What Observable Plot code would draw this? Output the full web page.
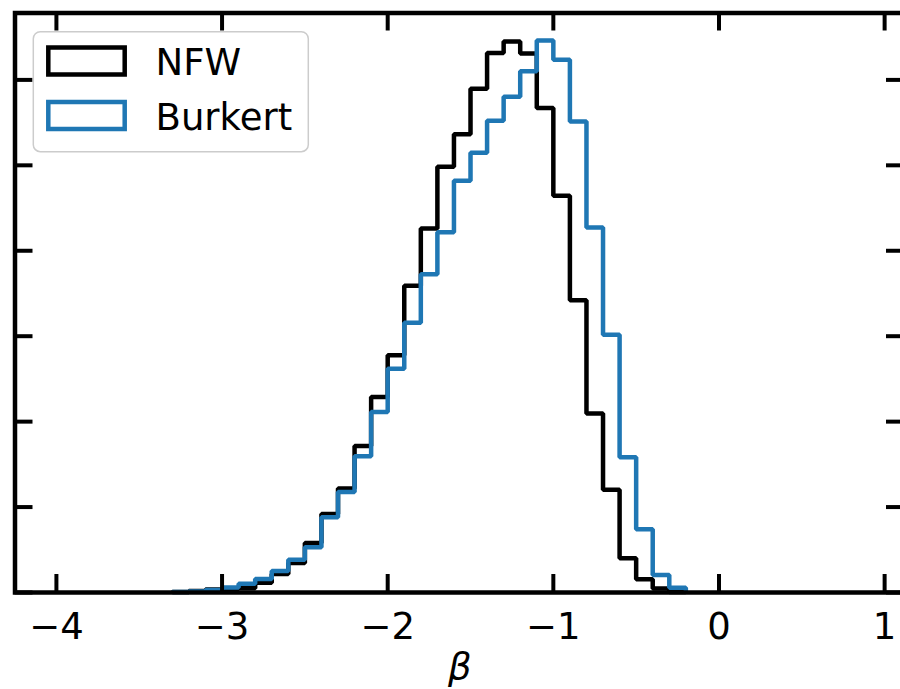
<!DOCTYPE html>
<html>
<head>
<meta charset="utf-8">
<script src="https://cdn.jsdelivr.net/npm/d3@7"></script>
<script src="https://cdn.jsdelivr.net/npm/@observablehq/plot@0.6"></script>
<style>
  html, body { margin: 0; padding: 0; background: #fff; }
  #chart { width: 900px; height: 689px; overflow: hidden; }
</style>
</head>
<body>
<div id="chart"></div>
<script>
// Bin left edges (bin width 0.1)
const binLeft = [-3.3, -3.2, -3.1, -3.0, -2.9, -2.8, -2.7, -2.6, -2.5, -2.4,
                 -2.3, -2.2, -2.1, -2.0, -1.9, -1.8, -1.7, -1.6, -1.5, -1.4,
                 -1.3, -1.2, -1.1, -1.0, -0.9, -0.8, -0.7, -0.6, -0.5, -0.4, -0.3];
const binWidth = 0.1;

// Counts per bin
const nfwCounts = [3, 9, 18, 21, 25, 57, 108, 172, 289, 460,
                   608, 858, 1144, 1389, 1795, 2131, 2492, 2682, 2948, 3157,
                   3225, 3154, 2836, 2322, 1711, 1047, 602, 201, 78, 23, 3];
const burkertCounts = [3, 6, 15, 29, 51, 79, 126, 192, 265, 441,
                       588, 797, 1057, 1309, 1579, 1863, 2108, 2410, 2573, 2761,
                       2902, 3051, 3230, 3118, 2756, 2136, 1509, 792, 370, 103, 28];

const seriesNames = ["NFW", "Burkert"];
const seriesColors = ["#000000", "#1f77b4"];

const xTicks = [-4, -3, -2, -1, 0, 1];
const yTicks = [0, 500, 1000, 1500, 2000, 2500, 3000];
const xDomain = [-4.25, 1.12];
const yMax = Math.max(...nfwCounts, ...burkertCounts) * 1.05;

// step outline of a histogram
function stepPoints(counts, name) {
  const pts = [{x: binLeft[0], y: 0, s: name}];
  counts.forEach((c, i) => pts.push({x: binLeft[i], y: c, s: name}));
  const lastRight = binLeft[binLeft.length - 1] + binWidth;
  pts.push({x: lastRight, y: counts[counts.length - 1], s: name});
  pts.push({x: lastRight, y: 0, s: name});
  return pts;
}
const nfwPts = stepPoints(nfwCounts, seriesNames[0]);
const burPts = stepPoints(burkertCounts, seriesNames[1]);

const W = 900, H = 689;
const mL = 14.5, mT = 12.5, mB = 97, mR = -4;
const frameW = W - mL - mR, frameH = H - mT - mB;
const tickLen = 18;

const plot = Plot.plot({
  width: W,
  height: H,
  marginLeft: mL,
  marginTop: mT,
  marginBottom: mB,
  marginRight: mR,
  style: {fontFamily: "DejaVu Sans", fontSize: "37px", color: "#000", background: "#fff", overflow: "hidden"},
  x: {domain: xDomain, axis: null},
  y: {domain: [0, yMax], axis: null},
  marks: [
    Plot.line(nfwPts, {x: "x", y: "y", curve: "step-after", stroke: seriesColors[0], strokeWidth: 4.5, strokeLinejoin: "miter", strokeLinecap: "butt"}),
    Plot.line(burPts, {x: "x", y: "y", curve: "step-after", stroke: seriesColors[1], strokeWidth: 4.5, strokeLinejoin: "miter", strokeLinecap: "butt"}),
    // inward ticks, bottom & top
    Plot.tickX(xTicks, {x: d => d, insetTop: frameH - tickLen, stroke: "#000", strokeWidth: 4}),
    Plot.tickX(xTicks, {x: d => d, insetBottom: frameH - tickLen, stroke: "#000", strokeWidth: 4}),
    // inward ticks, left & right
    Plot.tickY(yTicks, {y: d => d, insetRight: frameW - tickLen, stroke: "#000", strokeWidth: 4}),
    Plot.tickY(yTicks, {y: d => d, insetLeft: frameW - tickLen, stroke: "#000", strokeWidth: 4}),
    Plot.frame({stroke: "#000", strokeWidth: 4.5}),
    Plot.axisX(xTicks, {tickSize: 0, tickPadding: 20, tickFormat: d3.format("d"), fontSize: 37, label: null}),
    Plot.text(["β"], {frameAnchor: "bottom", lineAnchor: "bottom", dy: 86, fontSize: 37, fontStyle: "italic", fill: "#000"})
  ]
});

document.getElementById("chart").appendChild(plot);

// Legend (drawn on top of the plot, inside the axes)
const svg = d3.select(plot);
const lg = svg.append("g").attr("class", "legend").attr("text-anchor", "start");
lg.append("rect")
  .attr("x", 33.3).attr("y", 31.7).attr("width", 275).attr("height", 120)
  .attr("rx", 7).attr("ry", 7)
  .attr("fill", "#fff").attr("fill-opacity", 0.8)
  .attr("stroke", "#cccccc").attr("stroke-width", 1.5);
const legendRows = [{name: seriesNames[0], color: seriesColors[0], y: 47.5, ty: 75},
                    {name: seriesNames[1], color: seriesColors[1], y: 102, ty: 130}];
legendRows.forEach(r => {
  lg.append("rect")
    .attr("x", 48.3).attr("y", r.y).attr("width", 76.4).attr("height", 27)
    .attr("fill", "none").attr("stroke", r.color).attr("stroke-width", 4.5);
  lg.append("text")
    .attr("x", 155.5).attr("y", r.ty)
    .attr("text-anchor", "start")
    .attr("font-family", "DejaVu Sans").attr("font-size", 37)
    .attr("fill", "#000").text(r.name);
});
</script>
</body>
</html>
